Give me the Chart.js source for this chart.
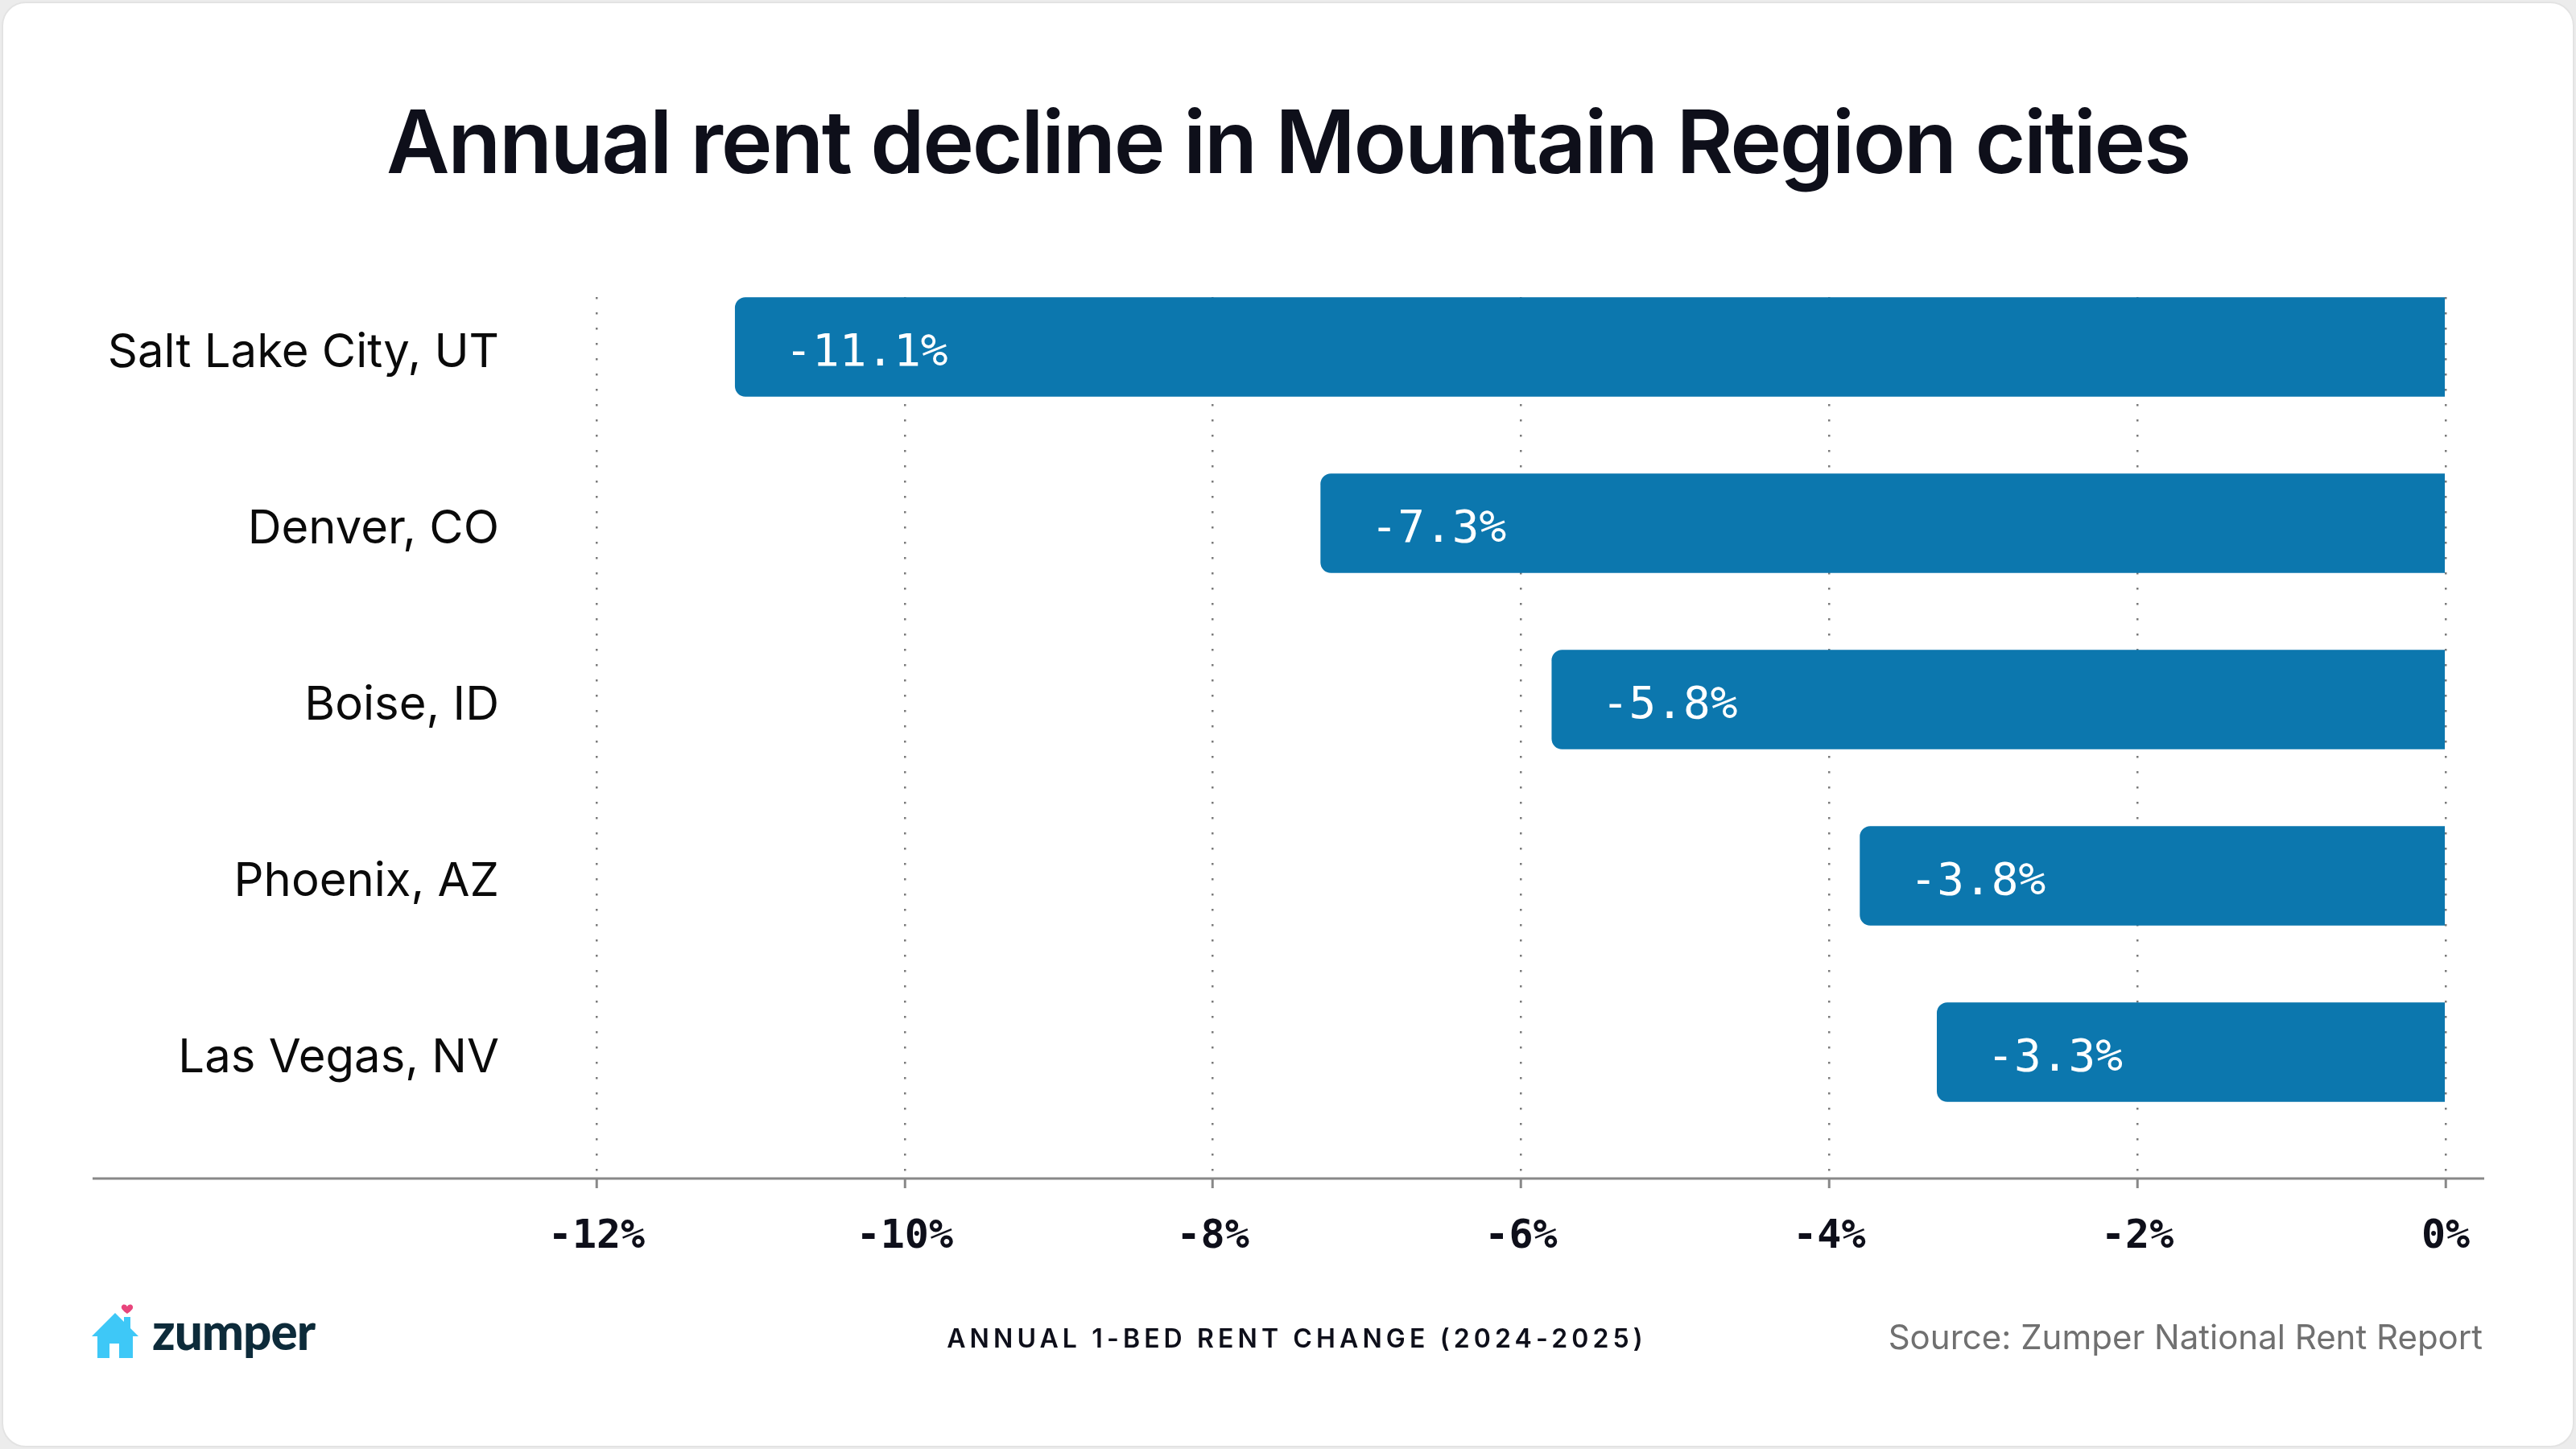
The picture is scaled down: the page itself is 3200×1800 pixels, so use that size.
<!DOCTYPE html>
<html>
<head>
<meta charset="utf-8">
<script src="https://cdn.jsdelivr.net/npm/chart.js@4"></script>
<style>
  html, body { margin: 0; padding: 0; }
  body { width: 3200px; height: 1800px; background: #ececec; position: relative; overflow: hidden; }
  .card {
    position: absolute; left: 2px; top: 2px; width: 3196px; height: 1796px;
    box-sizing: border-box; background: #fff; border: 2px solid #e3e3e3; border-radius: 30px;
  }
  #wrap { position: absolute; left: 0; top: 0; width: 3200px; height: 1800px; }
  .title {
    position: absolute; left: 0; top: 122px; width: 3200px; text-align: center;
    font: 600 108px/1 Inter, sans-serif; color: #0e0f1a; letter-spacing: -2.4px;
  }
  .axis-title {
    position: absolute; left: 1611px; top: 1647px; transform: translateX(-50%); white-space: nowrap;
    font: 600 32px/1 Inter, sans-serif; color: #0e0f1a; letter-spacing: 0.16em;
  }
  .source {
    position: absolute; right: 116px; top: 1640px; white-space: nowrap;
    font: 400 42px/1 Inter, sans-serif; color: #707070;
  }
  .logo-text {
    position: absolute; left: 189px; top: 1622px;
    font: 900 62px/1 Lato, sans-serif; color: #0d2b3a; letter-spacing: -1px;
  }
  .logo-house { position: absolute; left: 114px; top: 1619px; }
</style>
</head>
<body>
<div class="card"></div>
<div class="title">Annual rent decline in Mountain Region cities</div>
<div id="wrap"><canvas id="rentChart" width="3200" height="1800"></canvas></div>
<svg class="logo-house" width="58" height="69" viewBox="0 0 58 69">
  <path d="M44 4 C42 0 36 1 37 6 C38 9 44 13 44 13 C44 13 50 9 51 6 C52 1 46 0 44 4 Z" fill="#e8457c"/>
  <rect x="40" y="17" width="8" height="18" fill="#3ec8f7"/>
  <polygon points="0,41 29,12 58,41" fill="#3ec8f7"/>
  <path d="M7 38 H51 V68 H34 V50 H22 V68 H7 Z" fill="#3ec8f7"/>
</svg>
<div class="logo-text">zumper</div>
<div class="axis-title">ANNUAL 1-BED RENT CHANGE (2024-2025)</div>
<div class="source">Source: Zumper National Rent Report</div>

<script>
const cities = ['Salt Lake City, UT', 'Denver, CO', 'Boise, ID', 'Phoenix, AZ', 'Las Vegas, NV'];
const rentChange = [-11.1, -7.3, -5.8, -3.8, -3.3];
const xTickValues = [-12, -10, -8, -6, -4, -2, 0];

const barColor = '#0c77ae';

// white value text inside the left end of each bar
const valueLabels = {
  id: 'valueLabels',
  afterDatasetsDraw(chart) {
    const ctx = chart.ctx;
    const meta = chart.getDatasetMeta(0);
    ctx.save();
    ctx.fillStyle = '#ffffff';
    ctx.font = '400 56px "DejaVu Sans Mono", monospace';
    ctx.textAlign = 'left';
    ctx.textBaseline = 'middle';
    meta.data.forEach((bar, i) => {
      ctx.fillText(rentChange[i].toFixed(1) + '%', bar.x + 62, bar.y + 8);
    });
    ctx.restore();
  }
};

// long baseline running under the labels too
const baseLine = {
  id: 'baseLine',
  beforeDatasetsDraw(chart) {
    const ctx = chart.ctx;
    const y = chart.chartArea.bottom;
    ctx.save();
    ctx.strokeStyle = '#888888';
    ctx.lineWidth = 3;
    ctx.beginPath();
    ctx.moveTo(115, y);
    ctx.lineTo(3086, y);
    ctx.stroke();
    ctx.restore();
  }
};

new Chart(document.getElementById('rentChart'), {
  type: 'bar',
  data: {
    datasets: [{
      data: rentChange.map((v, i) => ({ x: v, y: i })),
      backgroundColor: barColor,
      borderRadius: 13,
      borderSkipped: 'start',
      barThickness: 123,
    }],
  },
  options: {
    indexAxis: 'y',
    responsive: false,
    devicePixelRatio: 1,
    animation: false,
    layout: { padding: { left: 0, right: 162, top: 369, bottom: 200 } },
    plugins: { legend: { display: false }, tooltip: { enabled: false } },
    scales: {
      x: {
        type: 'linear',
        min: -12,
        max: 0,
        afterBuildTicks: (s) => { s.ticks = xTickValues.map(v => ({ value: v })); },
        afterFit: (s) => { s.height = 136; },
        grid: {
          color: '#7a7a7a',
          lineWidth: 2.5,
          drawTicks: true,
          tickLength: 12,
          tickColor: '#888888',
          tickWidth: 3,
          tickBorderDash: [],
        },
        border: { display: false, dash: [2.5, 16.5] },
        ticks: {
          padding: 31,
          color: '#0e0f1a',
          font: { family: '"DejaVu Sans Mono", monospace', size: 50, weight: 'bold' },
          callback: (v) => v + '%',
        },
      },
      y: {
        type: 'linear',
        reverse: true,
        offset: false,
        min: -0.283,
        max: 4.717,
        afterBuildTicks: (s) => { s.ticks = cities.map((c, i) => ({ value: i })); },
        afterFit: (s) => { s.width = 741; },
        grid: { display: false, drawTicks: false, offset: false },
        border: { display: false },
        ticks: {
          autoSkip: false,
          padding: 121,
          labelOffset: 8,
          color: '#0a0a0a',
          font: { family: 'Inter, sans-serif', size: 58, weight: '400' },
          callback: (v) => cities[v],
        },
      },
    },
  },
  plugins: [valueLabels, baseLine],
});
</script>
</body>
</html>
